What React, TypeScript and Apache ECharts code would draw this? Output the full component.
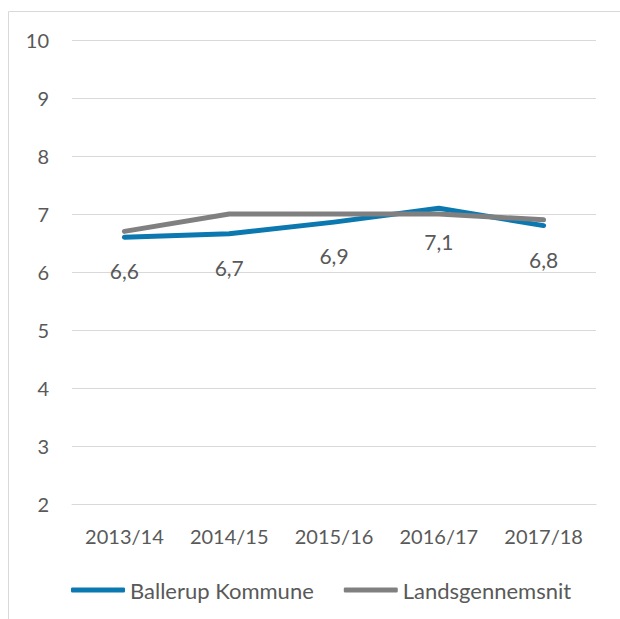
import React, { useEffect, useRef } from "react";
import * as echarts from "echarts";

const categories = ["2013/14", "2014/15", "2015/16", "2016/17", "2017/18"];
const ballerup = [6.6, 6.66, 6.86, 7.1, 6.8];
const landsgennemsnit = [6.7, 7.0, 7.0, 7.0, 6.9];
const seriesNames = ["Ballerup Kommune", "Landsgennemsnit"];

const FONT = "Lato";
const TEXT = "#595959";

export default function App() {
  const ref = useRef<HTMLDivElement>(null);
  useEffect(() => {
    const chart = echarts.init(ref.current!, null, { renderer: "svg" });
    chart.setOption({
      animation: false,
      textStyle: { fontFamily: FONT },
      grid: { left: 72, right: 24, top: 40, bottom: 115, containLabel: false },
      graphic: [
        { type: "line", shape: { x1: 8.5, y1: 11.5, x2: 620, y2: 11.5 }, style: { stroke: "#d9d9d9", lineWidth: 1 } },
        { type: "line", shape: { x1: 8.5, y1: 11.5, x2: 8.5, y2: 619 }, style: { stroke: "#d9d9d9", lineWidth: 1 } },
      ],
      legend: {
        left: 66,
        top: 574,
        itemWidth: 54,
        itemHeight: 5,
        itemGap: 30,
        icon: "roundRect",
        textStyle: { color: TEXT, fontSize: 22, fontFamily: FONT },
        data: seriesNames,
      },
      xAxis: {
        type: "category",
        data: categories,
        boundaryGap: true,
        axisLine: { lineStyle: { color: "#d9d9d9", width: 1 } },
        axisTick: { show: false },
        axisLabel: { color: TEXT, fontSize: 20, margin: 22, fontFamily: FONT },
      },
      yAxis: {
        type: "value",
        min: 2,
        max: 10,
        interval: 1,
        axisLine: { show: false },
        axisTick: { show: false },
        splitLine: { lineStyle: { color: "#d9d9d9", width: 1 } },
        axisLabel: { color: TEXT, fontSize: 20, margin: 23, fontFamily: FONT },
      },
      series: [
        {
          name: seriesNames[0],
          type: "line",
          data: ballerup,
          symbol: "circle",
          symbolSize: 0,
          showSymbol: true,
          z: 2,
          lineStyle: { color: "#0B78B0", width: 5, cap: "round", join: "round" },
          itemStyle: { color: "#0B78B0" },
          label: {
            show: true,
            position: "bottom",
            distance: 23,
            color: TEXT,
            fontSize: 21,
            fontFamily: FONT,
            formatter: (p: any) => Number(p.value).toFixed(1).replace(".", ","),
          },
        },
        {
          name: seriesNames[1],
          type: "line",
          data: landsgennemsnit,
          symbol: "none",
          z: 3,
          lineStyle: { color: "#808080", width: 5, cap: "round", join: "round" },
          itemStyle: { color: "#808080" },
        },
      ],
    });
    return () => chart.dispose();
  }, []);
  return (
    <div
      ref={ref}
      style={{ position: "fixed", left: 0, top: 0, width: 620, height: 619, background: "#fff" }}
    />
  );
}
